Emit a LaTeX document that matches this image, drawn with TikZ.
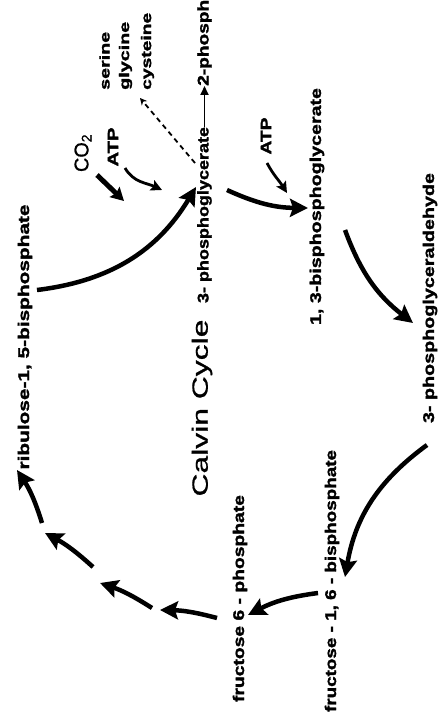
\documentclass[tikz,border=0pt]{standalone}
\usepackage{fontspec}
\setmainfont{Liberation Sans}[BoldFeatures={FakeBold=1.6}]
\newfontfamily\calfont{Liberation Sans}[FakeBold=0.8]
\usepackage{graphicx}
\usetikzlibrary{arrows.meta}
\newcommand{\fitw}[2]{\resizebox{#1pt}{\height}{#2}}
\begin{document}
\begin{tikzpicture}[x=1pt,y=-1pt,
  lab/.style={rotate=90, inner sep=0pt, font=\bfseries\fontsize{15.5}{16}\selectfont},
  big/.style={rotate=90, inner sep=0pt, font=\calfont\fontsize{22}{24}\selectfont},
  small/.style={rotate=90, inner sep=0pt, anchor=west, font=\bfseries\fontsize{14}{15}\selectfont},
  cyc/.style={line width=4.5pt, -{Stealth[length=18pt,width=18pt,inset=3pt]}},
  co2arrow/.style={line width=5pt, -{Stealth[length=13pt,width=14pt,inset=2pt]}},
  atparrow/.style={line width=2.8pt, -{Stealth[length=11pt,width=11pt,inset=2pt]}},
  thinarrow/.style={line width=1.8pt, -{Triangle[length=9pt,width=8pt]}},
  dasharrow/.style={line width=1.8pt, dash pattern=on 5pt off 4pt, -{Stealth[length=7pt,width=7pt]}},
]
\useasboundingbox (0,0) rectangle (442,719);

% labels
\node[lab] (rib) at (25,337) {\fitw{265}{ribulose-1, 5-bisphosphate}};
\node[big] (calvin) at (202,408) {\fitw{177}{Calvin Cycle}};
\node[lab] (pga) at (204.5,215) {\fitw{176}{3- phosphoglycerate}};
\node[lab, anchor=west] (pg2) at (204.5,86) {\fitw{86}{2-phosph}};
\node[lab] (bpg) at (317,206.5) {\fitw{237}{1, 3-bisphosphoglycerate}};
\node[lab] (gap) at (430,298) {\fitw{250}{3- phosphoglyceraldehyde}};
\node[lab] (fbp) at (332,581) {\fitw{262}{fructose - 1, 6 - bisphosphate}};
\node[lab] (f6p) at (240,598.5) {\fitw{207}{fructose 6 - phosphate}};
\node[big, font=\calfont\fontsize{20}{22}\selectfont] (co2) at (83,153) {\fitw{38}{CO\textsubscript{2}}};
\node[lab, font=\bfseries\fontsize{15}{16}\selectfont] (atpa) at (113,147) {\fitw{39}{ATP}};
\node[lab, font=\bfseries\fontsize{15}{16}\selectfont] (atpb) at (266,136) {\fitw{37}{ATP}};
\node[small] (ser) at (104.5,90) {\fitw{58}{serine}};
\node[small] (gly) at (125.5,90) {\fitw{68}{glycine}};
\node[small] (cys) at (147.5,90) {\fitw{77}{cysteine}};

% arrow end points
\coordinate (a1) at (37,290);  \coordinate (a2) at (196,187);
\coordinate (d1) at (227,190); \coordinate (d2) at (308,208);
\coordinate (f1) at (345,230); \coordinate (f2) at (413,323);
\coordinate (g1) at (427,445); \coordinate (g2) at (345,577);
\coordinate (h1) at (318,593); \coordinate (h2) at (248,615);
\coordinate (i1) at (217,618); \coordinate (i2) at (160,610);
\coordinate (j1) at (152,608); \coordinate (j2) at (100,583);
\coordinate (k1) at (93,567);  \coordinate (k2) at (45,533);
\coordinate (l1) at (42,523);  \coordinate (l2) at (17,470);
\coordinate (c1) at (97,175);  \coordinate (c2) at (124,201);
\coordinate (p1) at (125,168); \coordinate (p2) at (162,190);
\coordinate (q1) at (267,163); \coordinate (q2) at (287,193);
\coordinate (s1) at (195,163); \coordinate (s2) at (140,98);

% cycle
\draw[cyc] (a1) to[bend right=26] (a2);
\draw[cyc] (d1) to[bend right=12] (d2);
\draw[cyc] (f1) to[bend right=16] (f2);
\draw[cyc] (g1) to[bend right=22] (g2);
\draw[cyc] (h1) to[bend right=10] (h2);
\draw[cyc] (i1) to[bend right=7] (i2);
\draw[cyc] (j1) to[bend right=7] (j2);
\draw[cyc] (k1) to[bend right=7] (k2);
\draw[cyc] (l1) to[bend right=8] (l2);

% side arrows
\draw[co2arrow] (c1) -- (c2);
\draw[atparrow] (p1) to[out=-60, in=155] (p2);
\draw[atparrow] (q1) to[out=-62, in=122] (q2);
\draw[dasharrow] (s1) -- (s2);
\draw[thinarrow] (pga.east) -- (pg2.west);
\end{tikzpicture}
\end{document}
